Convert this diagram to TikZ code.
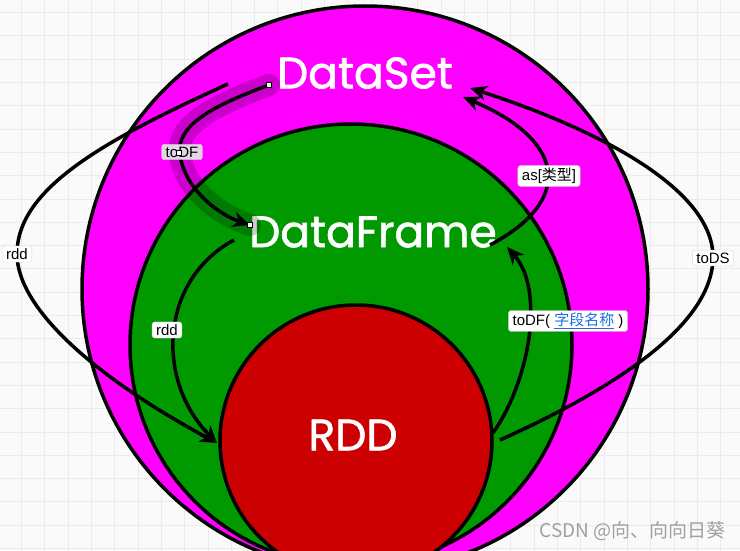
\documentclass[tikz,border=0pt]{standalone}
\usepackage{xcolor}
\usepackage{fontspec}
\usepackage{tikz}
\usetikzlibrary{positioning, arrows.meta}
\setmainfont{Liberation Sans}
\newfontfamily\bigfont[FakeBold=1.5]{Poppins}
\newfontfamily\cjk{Noto Sans CJK SC}
\definecolor{dsmagenta}{HTML}{FF00FF}
\definecolor{dfgreen}{HTML}{009900}
\definecolor{rddred}{HTML}{CC0000}
\definecolor{gridgray}{HTML}{EBEBEB}
\definecolor{bggray}{HTML}{FAFAFA}
\definecolor{linkblue}{HTML}{1A6FE0}
\definecolor{markgray}{HTML}{A0A0A0}

\tikzset{
  blob/.style={draw=black, line width=3.5pt},
  title/.style={text=white, font=\bigfont\fontsize{44}{44}\selectfont, inner sep=0pt},
  conn/.style={draw=black, line width=3.5pt, -{Stealth[length=17pt, width=15pt, inset=5pt]}},
  lbl/.style={draw=black!15, fill=white, rounded corners=2.5pt, inner xsep=4pt, inner ysep=2.5pt,
              font=\fontsize{15}{16}\selectfont},
  handle/.style={draw=black, fill=white, line width=0.6pt, minimum size=4.5pt, inner sep=0pt}
}

\begin{document}
\begin{tikzpicture}[x=1pt, y=-1pt]
  \useasboundingbox (0,0) rectangle (740,551);
  \clip (0,0) rectangle (740,551);
  \fill[bggray] (0,0) rectangle (740,551);
  \foreach \i in {0,...,31} {
    \draw[gridgray, line width=0.8pt] (21.5+23.3*\i,0) -- (21.5+23.3*\i,551);
  }
  \foreach \j in {0,...,23} {
    \draw[gridgray, line width=0.8pt] (0,12.5+23.3*\j) -- (740,12.5+23.3*\j);
  }

  \path[blob, fill=dsmagenta] (365,289) circle[radius=283pt];
  \path[blob, fill=dfgreen] (351,345) circle[radius=221pt];
  \path[blob, fill=rddred] (356,441) circle[radius=136pt];

  \node[title] (dataset) at (365,73) {DataSet};
  \node[title] (dataframe) at (373,232) {DataFrame};
  \node[title] (rddtext) at (353,435) {RDD};

  \coordinate (ds-out1) at (269,85);
  \coordinate (ds-out2) at (228,84);
  \coordinate (ds-in1) at (463,97);
  \coordinate (ds-in2) at (470,88);
  \coordinate (df-in1) at (250,225);
  \coordinate (df-in2) at (507,247);
  \coordinate (df-out1) at (234,240);
  \coordinate (df-out2) at (490,245);
  \coordinate (rdd-in) at (217,443);
  \coordinate (rdd-out1) at (493,433);
  \coordinate (rdd-out2) at (500,440);

  \draw[black, opacity=0.2, line width=22pt, line cap=round, line join=round]
    (ds-out1) .. controls (215,105) and (175,125) .. (180,155) .. controls (185,190) and (220,215) .. (df-in1);

  \draw[conn] (ds-out1) .. controls (215,105) and (175,125) .. (180,155)
    .. controls (185,190) and (220,215) .. (df-in1);
  \draw[conn] (ds-out2) .. controls (100,142) and (17,190) .. (17,254)
    .. controls (17,310) and (100,380) .. (rdd-in);
  \draw[conn] (df-out1) .. controls (160,280) and (155,380) .. (rdd-in);
  \draw[conn] (df-out2) .. controls (575,200) and (565,140) .. (ds-in1);
  \draw[conn] (rdd-out1) .. controls (530,380) and (545,290) .. (df-in2);
  \draw[conn] (rdd-out2) .. controls (600,395) and (712,330) .. (713,258)
    .. controls (714,190) and (600,130) .. (ds-in2);

  \node[lbl, fill={rgb,255:red,226;green,214;blue,228}] (todf) at (182,152) {toDF};
  \node[lbl] (rdd1) at (17,254) {rdd};
  \node[lbl] (rdd2) at (167,330) {rdd};
  \node[lbl] (astype) at (549,176) {as[{\cjk 类型}]};
  \node[lbl] (todf2) at (568,321) {toDF( {\cjk\color{linkblue}\underline{字段名称}} )};
  \node[lbl] (tods) at (713,258) {toDS};

  \node[handle] (h1) at (ds-out1) {};
  \node[handle] (h2) at (df-in1) {};
  \node[handle] (h3) at (179,153) {};

  \node[text=markgray, font=\cjk\fontsize{19}{19}\selectfont, anchor=east] (mark) at (729,531)
    {CSDN @向、向向日葵};
\end{tikzpicture}
\end{document}
